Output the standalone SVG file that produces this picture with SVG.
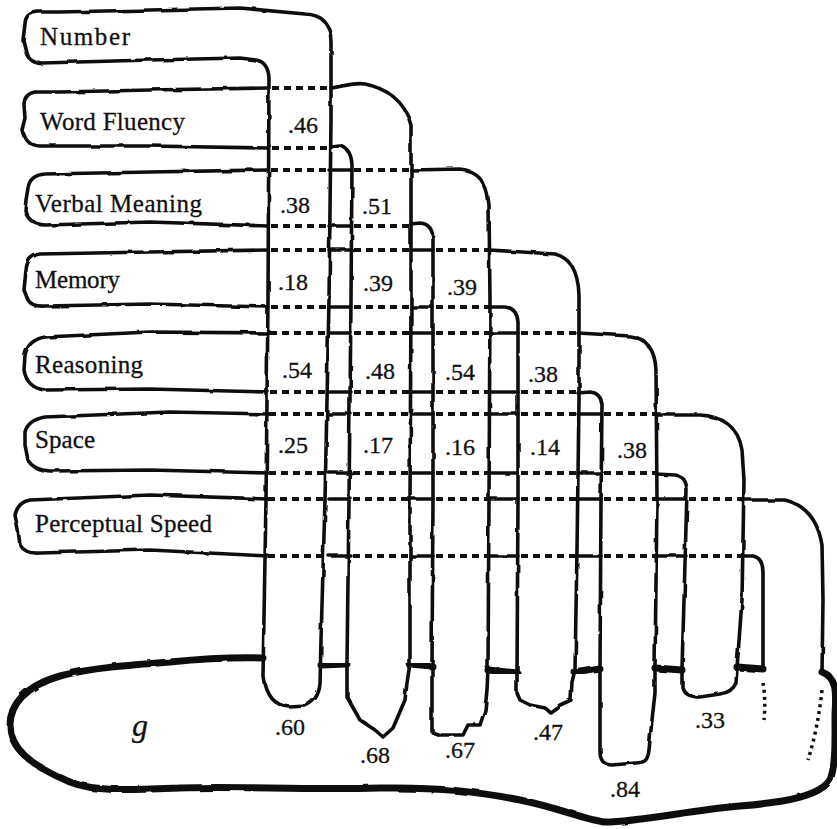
<svg xmlns="http://www.w3.org/2000/svg" width="837" height="829" viewBox="0 0 837 829">
<defs>
<filter id="rough" x="-5%" y="-5%" width="110%" height="110%">
<feTurbulence type="fractalNoise" baseFrequency="0.05" numOctaves="2" seed="4"/>
<feDisplacementMap in="SourceGraphic" scale="3"/>
</filter>
<style>
.ln{fill:none;stroke:#111;stroke-width:3.6;stroke-linejoin:round;stroke-linecap:round}
.ds{fill:none;stroke:#111;stroke-width:3.8;stroke-dasharray:7 5;stroke-dashoffset:-3}
.gb{fill:none;stroke:#111;stroke-width:7;stroke-linejoin:round;stroke-linecap:round}
.dt{fill:none;stroke:#111;stroke-width:3.5;stroke-dasharray:3 4}
text{font-family:'Liberation Serif','Times New Roman','DejaVu Serif',serif;fill:#111;stroke:#111;stroke-width:0.3}
.lab{font-size:25px}
.num{font-size:24px}
.g{font-size:32px;font-style:italic}
</style>
</defs>
<rect width="837" height="829" fill="#fff"/>

<g id="g-factor">
<path class="gb" filter="url(#rough)" d="M 263 658 C 230 657 200 659 170 662 C 130 665 90 668 60 676 C 25 686 10 705 10 725 C 10 748 30 765 70 782 C 95 792 130 790 180 788 C 240 786 300 790 380 788 C 440 787 480 792 520 800 C 560 808 585 820 605 822 C 640 822 690 810 740 806 C 790 802 820 795 830 780 C 836 765 835 740 835 715 C 836 695 838 678 822 672"/>
<path class="gb" filter="url(#rough)" d="M 321 665 L 347 664 M 410 664 L 432 666 M 488 670 L 517 673 M 575 673 L 600 669 M 655 668 L 682 670 M 737 667 L 763 669"/>
<path class="dt" d="M 763 683 Q 766 700 764 720 M 822 690 Q 818 728 808 760"/>
<text class="g" x="132" y="736">g</text>
</g>

<g id="number">
<path class="ln" filter="url(#rough)" d="M 320 684 L 321 640 L 325 500 L 329 300 L 331 120 L 331 42 Q 331 15 305 14 L 240 8 L 150 10 L 60 12 L 38 12 Q 25 13 25 24 L 23 40 L 26 52 Q 28 62 42 63 L 150 60 L 240 58 L 256 60 Q 268 62 269 78 L 268 300 L 266 500 L 263 676 C 265 695 275 706 290 707 L 305 706 C 315 702 319 694 320 684"/>
<text class="lab" x="40" y="45" textLength="90" lengthAdjust="spacing">Number</text>
<text class="num" x="275" y="735">.60</text>
</g>

<g id="word-fluency">
<path class="ln" filter="url(#rough)" d="M 268 88 L 150 90 L 60 92 L 35 92 Q 24 94 24 105 L 25 118 L 22 130 Q 25 145 40 146 L 150 146 L 268 148"/>
<path class="ln" filter="url(#rough)" d="M 331 88 C 345 86 355 82 365 84 C 385 88 405 100 411 125 L 411 300 L 410 500 L 410 663 L 407 683 L 405 700 L 393 728 L 383 737 L 375 730 L 360 720 L 347 697 L 347 663 L 349 500 L 351 300 L 352 165 Q 351 148 340 146 L 331 147"/>
<text class="lab" x="40" y="130" textLength="145" lengthAdjust="spacing">Word Fluency</text>
<text class="num" x="360" y="763">.68</text>
</g>

<g id="verbal-meaning">
<path class="ln" filter="url(#rough)" d="M 268 170 L 150 172 L 45 174 Q 30 175 28 188 L 26 200 L 25 210 Q 28 224 45 225 L 150 222 L 268 226 M 329 170 L 351 170 M 329 226 L 351 226"/>
<path class="ln" filter="url(#rough)" d="M 411 170 L 460 169 C 475 170 487 180 489 205 L 490 300 L 489 500 L 488 668 L 487 690 L 485 710 L 480 725 L 468 725 L 463 735 L 440 735 L 432 732 L 432 665 L 433 500 L 433 240 Q 433 224 420 223 L 411 224"/>
<text class="lab" x="35" y="212" textLength="167" lengthAdjust="spacing">Verbal Meaning</text>
<text class="num" x="445" y="758">.67</text>
</g>

<g id="memory">
<path class="ln" filter="url(#rough)" d="M 268 250 L 150 252 L 40 254 Q 27 256 26 270 L 24 290 L 28 300 Q 32 307 45 306 L 150 304 L 268 307 M 329 250 L 351 250 M 329 307 L 351 307 M 411 250 L 433 250 M 411 307 L 433 307"/>
<path class="ln" filter="url(#rough)" d="M 489 250 L 555 254 C 570 258 578 270 579 295 L 579 400 L 577 550 L 575 670 L 572 682 L 571 700 L 560 705 L 550 712 L 545 708 L 530 705 L 520 700 L 517 693 L 517 673 L 518 500 L 518 322 Q 517 308 505 307 L 489 307"/>
<text class="lab" x="35" y="288" textLength="85" lengthAdjust="spacing">Memory</text>
<text class="num" x="533" y="740">.47</text>
</g>

<g id="reasoning">
<path class="ln" filter="url(#rough)" d="M 268 333 L 150 332 L 45 337 Q 28 340 25 355 L 24 370 Q 27 388 45 390 L 150 389 L 268 392 M 329 333 L 351 333 M 329 392 L 351 392 M 411 333 L 433 333 M 411 392 L 433 392 M 489 333 L 518 333 M 489 392 L 518 392"/>
<path class="ln" filter="url(#rough)" d="M 578 333 L 630 336 C 645 338 655 348 656 370 L 657 500 L 655 668 L 655 693 L 652 720 L 649 750 C 648 760 645 763 635 763 L 612 765 C 604 765 600 760 600 752 L 600 670 L 601 500 L 602 405 Q 601 393 590 392 L 578 393"/>
<text class="lab" x="35" y="373" textLength="108" lengthAdjust="spacing">Reasoning</text>
<text class="num" x="610" y="797">.84</text>
</g>

<g id="space">
<path class="ln" filter="url(#rough)" d="M 268 414 L 170 412 L 45 417 Q 28 420 25 432 L 25 445 L 28 460 Q 33 470 50 471 L 150 470 L 268 473 M 329 414 L 351 414 M 329 473 L 351 473 M 411 414 L 433 414 M 411 473 L 433 473 M 489 414 L 518 414 M 489 473 L 518 473 M 578 414 L 601 414 M 578 473 L 601 473"/>
<path class="ln" filter="url(#rough)" d="M 656 415 L 700 415 C 720 416 738 425 742 450 L 744 480 L 742 600 L 737 668 L 736 683 C 733 690 728 693 720 694 L 700 697 C 690 697 684 694 682 687 L 682 668 L 684 600 L 687 490 Q 686 476 675 475 L 656 474"/>
<text class="lab" x="35" y="448" textLength="60" lengthAdjust="spacing">Space</text>
<text class="num" x="695" y="728">.33</text>
</g>

<g id="perceptual-speed">
<path class="ln" filter="url(#rough)" d="M 268 499 L 150 495 L 30 500 Q 18 502 15 515 L 18 530 L 20 545 Q 25 554 40 553 L 150 550 L 268 556 M 329 499 L 351 499 M 329 556 L 351 556 M 411 499 L 433 499 M 411 556 L 433 556 M 489 499 L 518 499 M 489 556 L 518 556 M 578 499 L 601 499 M 578 556 L 601 556 M 656 499 L 686 499 M 656 556 L 686 556"/>
<path class="ln" filter="url(#rough)" d="M 742 500 L 785 500 C 805 505 818 520 822 545 L 823 600 L 822 672 M 742 556 L 753 556 Q 763 558 763 572 L 763 668"/>
<text class="lab" x="35" y="532" textLength="177" lengthAdjust="spacing">Perceptual Speed</text>
</g>

<g id="connectors">
<path class="ds" d="M 269 88 L 329 88 M 269 148 L 329 148
M 268 170 L 329 170 M 268 226 L 329 226 M 351 170 L 411 170 M 351 226 L 411 226
M 268 250 L 329 250 M 268 307 L 329 307 M 351 250 L 411 250 M 351 307 L 411 307 M 433 250 L 489 250 M 433 307 L 489 307
M 267 333 L 328 333 M 267 392 L 328 392 M 351 333 L 411 333 M 351 392 L 411 392 M 433 333 L 489 333 M 433 392 L 489 392 M 518 333 L 578 333 M 518 392 L 578 392
M 266 414 L 327 414 M 266 473 L 327 473 M 350 414 L 411 414 M 350 473 L 411 473 M 433 414 L 489 414 M 433 473 L 489 473 M 518 414 L 578 414 M 518 473 L 578 473 M 601 414 L 656 414 M 601 473 L 656 473
M 265 499 L 326 499 M 265 556 L 326 556 M 350 499 L 410 499 M 350 556 L 410 556 M 433 499 L 489 499 M 433 556 L 489 556 M 518 499 L 578 499 M 518 556 L 578 556 M 601 499 L 656 499 M 601 556 L 656 556 M 686 499 L 742 499 M 686 556 L 742 556"/>
<text class="num" x="288" y="133">.46</text>
<text class="num" x="280" y="213">.38</text>
<text class="num" x="362" y="214">.51</text>
<text class="num" x="278" y="290">.18</text>
<text class="num" x="363" y="291">.39</text>
<text class="num" x="447" y="295">.39</text>
<text class="num" x="282" y="378">.54</text>
<text class="num" x="365" y="379">.48</text>
<text class="num" x="445" y="380">.54</text>
<text class="num" x="528" y="382">.38</text>
<text class="num" x="278" y="453">.25</text>
<text class="num" x="363" y="453">.17</text>
<text class="num" x="445" y="455">.16</text>
<text class="num" x="530" y="455">.14</text>
<text class="num" x="617" y="458">.38</text>
</g>
</svg>
